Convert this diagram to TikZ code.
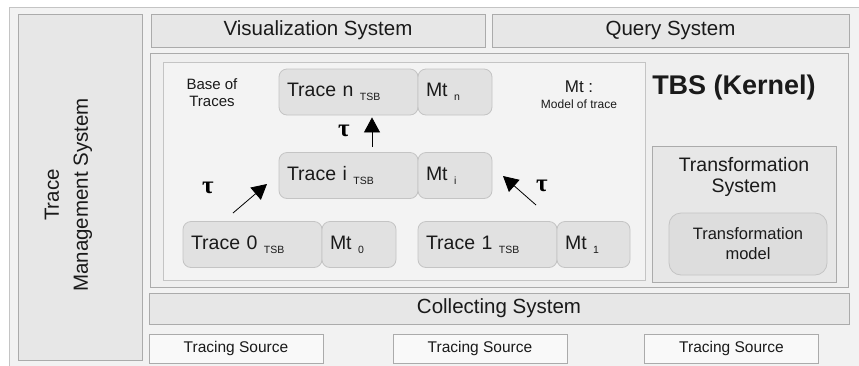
\documentclass[tikz,border=0pt]{standalone}
\usepackage{fontspec}
\setmainfont{Liberation Sans}
\newfontfamily\greekserif{Liberation Serif}
\usetikzlibrary{arrows.meta}

\definecolor{frameback}{HTML}{F2F2F2}
\definecolor{panel}{HTML}{E7E7E7}
\definecolor{kernel}{HTML}{EFEFEF}
\definecolor{basefill}{HTML}{F3F3F3}
\definecolor{tracefill}{HTML}{E1E1E1}
\definecolor{modelfill}{HTML}{DDDDDD}
\definecolor{sourcefill}{HTML}{F9F9F9}
\definecolor{edge}{HTML}{ABABAB}
\definecolor{lightedge}{HTML}{C4C4C4}
\definecolor{ink}{HTML}{1A1A1A}

% font size with a chosen line distance
\newcommand{\fsl}[2]{\fontsize{#1}{#2}\selectfont}
\newcommand{\lowsub}[1]{\raisebox{-4pt}{\fsl{10.5}{12}#1}}

\tikzset{
  panelbox/.style={draw=edge, fill=panel, line width=0.8pt, inner sep=0pt,
    text=ink, font=\fsl{20.5}{24}},
  tracebox/.style={draw=lightedge, fill=tracefill, line width=0.8pt,
    rounded corners=8pt, inner xsep=8pt, inner ysep=0pt, align=left,
    text=ink, font=\fsl{19.5}{22}, minimum height=46pt},
  sourcebox/.style={draw=edge, fill=sourcefill, line width=0.8pt,
    minimum width=174pt, minimum height=29pt, inner sep=0pt,
    text=ink, font=\fsl{15.5}{18}},
  plain/.style={inner sep=0pt, text=ink, align=center},
  taulabel/.style={inner sep=0pt, text=black, font=\greekserif\bfseries\fsl{25}{28}},
  evolve/.style={line width=0.8pt, black,
    -{Triangle[length=15pt,width=16pt]}}
}

\begin{document}
\begin{tikzpicture}[x=1pt, y=-1pt]
  \useasboundingbox (0,0) rectangle (859,365);
  \fill[white] (0,0) rectangle (859,365);
  \begin{scope}
    \clip (0,0) rectangle (859,365);
    % outer frame, running past the right and bottom edges
    \draw[draw=lightedge, fill=frameback, line width=0.8pt] (9,7) rectangle (880,390);
  \end{scope}

  % side column
  \node[panelbox, minimum width=124pt, minimum height=346pt] (tms) at (80,187) {};
  \node[plain, font=\fsl{20.5}{29}, rotate=90] (tmslabel) at (68.5,195)
    {Trace\\Management System};

  % top panels
  \node[panelbox, minimum width=334pt, minimum height=33pt] (vis) at (318,30.5) {Visualization System};
  \node[panelbox, minimum width=357pt, minimum height=33pt] (query) at (670.5,30.5) {Query System};

  % kernel
  \node[draw=edge, fill=kernel, line width=0.8pt, minimum width=698pt,
        minimum height=234pt, inner sep=0pt] (tbs) at (499,170) {};
  \node[plain, font=\bfseries\fsl{27}{30}] (tbslabel) at (734,88) {TBS (Kernel)};

  % base of traces
  \node[draw=lightedge, fill=basefill, line width=0.8pt, minimum width=482pt,
        minimum height=218pt, inner sep=0pt] (base) at (404,171) {};
  \node[plain, font=\fsl{15}{17}] (baselabel) at (212,93) {Base of\\Traces};

  \node[plain, font=\fsl{17}{20}] (mtlabel) at (579,87) {Mt :};
  \node[plain, font=\fsl{12}{14}] (mtdef) at (579,104) {Model of trace};

  % traces and their models
  \node[tracebox, minimum width=139pt, text width=123pt] (tn) at (348.5,92) {Trace n \lowsub{TSB}};
  \node[tracebox, minimum width=74pt, text width=58pt] (mn) at (455,92) {Mt \lowsub{n}};

  \node[tracebox, minimum width=139pt, text width=123pt] (ti) at (348.5,175.5) {Trace i \lowsub{TSB}};
  \node[tracebox, minimum width=74pt, text width=58pt] (mi) at (455,175.5) {Mt \lowsub{i}};

  \node[tracebox, minimum width=139pt, text width=123pt] (t0) at (252.5,244.5) {Trace 0 \lowsub{TSB}};
  \node[tracebox, minimum width=74pt, text width=58pt] (m0) at (359,244.5) {Mt \lowsub{0}};

  \node[tracebox, minimum width=139pt, text width=123pt] (t1) at (487.5,244.5) {Trace 1 \lowsub{TSB}};
  \node[tracebox, minimum width=73pt, text width=57pt] (m1) at (593.5,244.5) {Mt \lowsub{1}};

  % transformations between traces
  \draw[evolve, shorten <=5pt, shorten >=2pt]
    ([xshift=23.5pt]ti.north) -- ([xshift=23.5pt]tn.south);
  \coordinate (lefttail) at (233,213);
  \coordinate (lefttip) at (267,184);
  \draw[evolve] (lefttail) -- (lefttip);
  \coordinate (righttail) at (536,205);
  \coordinate (righttip) at (503,176);
  \draw[evolve] (righttail) -- (righttip);

  \node[taulabel] (taun) at (344,131) {τ};
  \node[taulabel] (taul) at (208,188) {τ};
  \node[taulabel] (taur) at (542,186) {τ};

  % transformation system
  \node[draw=edge, fill=panel, line width=0.8pt, minimum width=184pt,
        minimum height=136pt, inner sep=0pt] (trs) at (744,214) {};
  \node[plain, font=\fsl{19.5}{21.5}] (trslabel) at (744,177) {Transformation\\System};
  \node[draw=lightedge, fill=modelfill, line width=0.8pt, rounded corners=12pt,
        minimum width=158pt, minimum height=62pt, inner sep=0pt, text=ink,
        align=center, font=\fsl{16.5}{20}] (tmodel) at (748,244) {Transformation\\model};

  % collecting layer and sources
  \node[panelbox, minimum width=700pt, minimum height=31pt] (collect) at (499,308.5) {Collecting System};
  \node[sourcebox] (src1) at (236,348.5) {Tracing Source};
  \node[sourcebox] (src2) at (480,348.5) {Tracing Source};
  \node[sourcebox] (src3) at (731.5,348.5) {Tracing Source};
\end{tikzpicture}
\end{document}
